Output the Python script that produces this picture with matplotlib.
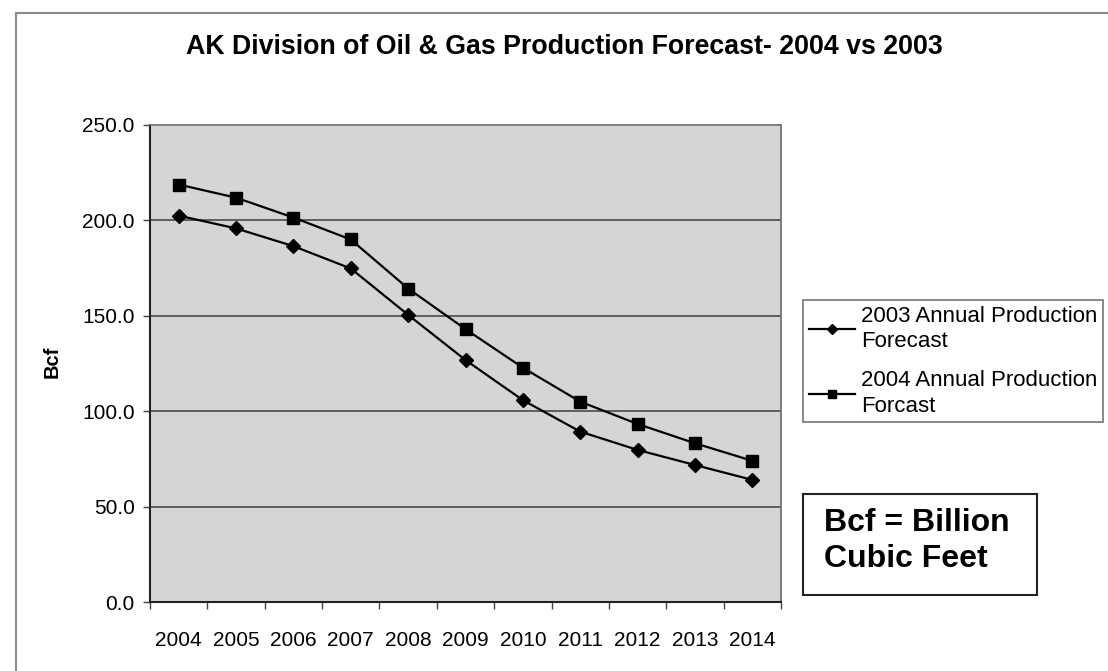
import numpy as np
import matplotlib.pyplot as plt
from matplotlib.lines import Line2D
from matplotlib.patches import Rectangle

plt.rcParams['font.family'] = ['Liberation Sans', 'DejaVu Sans']

years = ['2004', '2005', '2006', '2007', '2008', '2009', '2010', '2011', '2012', '2013', '2014']
forecast_2003 = [202.5, 195.8, 186.5, 174.8, 150.5, 126.8, 105.8, 89.3, 79.7, 71.8, 64.0]
forecast_2004 = [218.8, 211.9, 201.5, 190.0, 164.3, 143.0, 122.8, 105.0, 93.3, 83.2, 74.0]
label_2003 = '2003 Annual Production\nForecast'
label_2004 = '2004 Annual Production\nForcast'
yticks = [0, 50, 100, 150, 200, 250]

W, H = 1108, 671
fig = plt.figure(figsize=(W / 100, H / 100), dpi=100)
fig.patch.set_facecolor('white')

# область графика (в пикселях исходника)
L, R, T, B = 150, 781, 125, 602
ax = fig.add_axes([L / W, 1 - B / H, (R - L) / W, (B - T) / H])
ax.set_facecolor('#d5d5d5')

x = np.arange(len(years))
ax.plot(x, forecast_2003, color='black', lw=1.6, marker='D', ms=7, label=label_2003, zorder=3)
ax.plot(x, forecast_2004, color='black', lw=1.6, marker='s', ms=9, label=label_2004, zorder=3)

ax.set_xlim(-0.5, len(years) - 0.5)
ax.set_ylim(0, 250)
ax.set_yticks(yticks)
ax.set_yticklabels([f'{v:.1f}' for v in yticks], fontsize=15)
for v in yticks[1:-1]:
    ax.axhline(v, color='#4a4a4a', lw=1.2, zorder=1)

ax.set_xticks(x)
ax.set_xticklabels(years, fontsize=15)
ax.set_xticks(np.arange(len(years) + 1) - 0.5, minor=True)
ax.tick_params(axis='x', which='major', length=0, pad=21)
ax.tick_params(axis='x', which='minor', length=5, width=1, color='#444', direction='out')
ax.tick_params(axis='y', length=5, width=1, color='#444', pad=6)

for s in ['left', 'bottom']:
    ax.spines[s].set_color('#222')
    ax.spines[s].set_linewidth(1.5)
for s in ['top', 'right']:
    ax.spines[s].set_color('#6a6a6a')
    ax.spines[s].set_linewidth(1.2)

fig.text(52 / W, 1 - 362 / H, 'Bcf', rotation=90, fontsize=14.5, fontweight='bold',
         ha='center', va='center')

fig.text(564 / W, 1 - 47 / H, 'AK Division of Oil & Gas Production Forecast- 2004 vs 2003',
         fontsize=19.3, fontweight='bold', ha='center', va='center')

# рамка всей диаграммы
fig.add_artist(Line2D([16 / W, 1], [1 - 13 / H] * 2, color='#8a8a8a', lw=1.5))
fig.add_artist(Line2D([16 / W] * 2, [0, 1 - 13 / H], color='#8a8a8a', lw=1.5))

leg = ax.legend(loc='upper left', bbox_to_anchor=(803 / W, 1 - 300 / H),
                bbox_transform=fig.transFigure, borderaxespad=0, fontsize=16,
                frameon=True, fancybox=False, edgecolor='#555', handlelength=2.1,
                handletextpad=0.25, labelspacing=0.8, borderpad=0.25, markerscale=0.7)
leg.get_frame().set_linewidth(1.2)
for t in leg.get_texts():
    t.set_linespacing(1.3)

# поясняющая рамка
fig.add_artist(Rectangle((803 / W, 1 - 595 / H), (1037 - 803) / W, (595 - 494) / H,
                         transform=fig.transFigure, facecolor='white', edgecolor='#222', lw=1.5))
fig.text(824 / W, 1 - 541 / H, 'Bcf = Billion\nCubic Feet', fontsize=23, fontweight='bold',
         ha='left', va='center', linespacing=1.3)

fig.savefig('out.png', dpi=100)
